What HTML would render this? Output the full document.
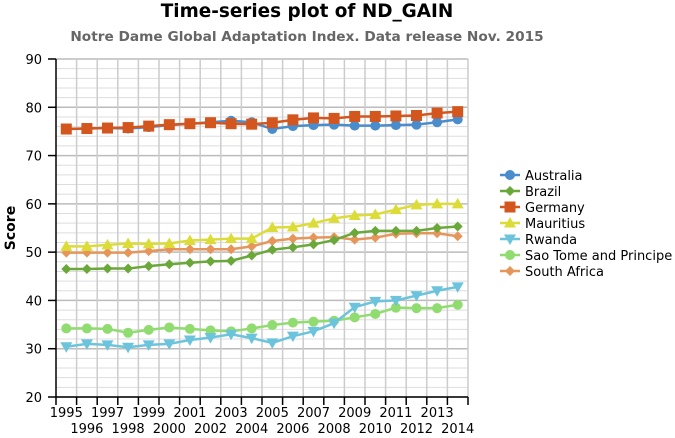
<!DOCTYPE html>
<html><head><meta charset="utf-8"><style>
body{margin:0;background:#fff;font-family:"DejaVu Sans","Liberation Sans",sans-serif;}
svg text{font-family:"DejaVu Sans","Liberation Sans",sans-serif;}
</style></head><body>
<svg id="chart" width="675" height="434">
<text x="307" y="17" text-anchor="middle" font-size="18.4" font-weight="bold" fill="#000">Time-series plot of ND_GAIN</text>
<text x="307" y="41" text-anchor="middle" font-size="13.7" font-weight="bold" fill="#666">Notre Dame Global Adaptation Index. Data release Nov. 2015</text>
<text transform="translate(15,228) rotate(-90)" text-anchor="middle" font-size="14" font-weight="bold">Score</text>
<g id="grid"></g><g id="axes"></g><g id="series"></g><g id="legend"></g>
</svg>
<script>
const years=[1995,1996,1997,1998,1999,2000,2001,2002,2003,2004,2005,2006,2007,2008,2009,2010,2011,2012,2013,2014];
const yTicks=[20,30,40,50,60,70,80,90];
const australia=[75.5,75.6,75.7,75.6,75.9,76.3,76.6,76.9,77.2,76.9,75.5,76.1,76.3,76.4,76.2,76.2,76.3,76.4,76.9,77.5];
const brazil=[46.5,46.5,46.6,46.6,47.1,47.5,47.8,48.1,48.2,49.3,50.5,51,51.6,52.5,54,54.4,54.4,54.4,55,55.3];
const germany=[75.5,75.6,75.7,75.8,76.1,76.4,76.6,76.8,76.6,76.5,76.8,77.4,77.8,77.7,78.1,78.1,78.2,78.3,78.8,79.1];
const mauritius=[51.2,51.2,51.5,51.8,51.7,51.8,52.4,52.6,52.8,52.8,55.1,55.2,56,57,57.6,57.8,58.8,59.8,60,60];
const rwanda=[30.4,31,30.8,30.3,30.8,31,31.8,32.3,33,32.2,31.2,32.6,33.6,35.3,38.6,39.8,40,41,42,42.8];
const saoTome=[34.2,34.2,34.1,33.3,33.9,34.4,34.1,33.8,33.6,34.2,34.9,35.4,35.6,35.8,36.5,37.2,38.5,38.4,38.4,39.1];
const southAfrica=[49.9,49.9,49.9,49.9,50.2,50.6,50.6,50.6,50.6,51.2,52.3,52.8,53,53.1,52.6,53,53.8,53.9,53.9,53.3];
const names=["Australia","Brazil","Germany","Mauritius","Rwanda","Sao Tome and Principe","South Africa"];
const NS="http://www.w3.org/2000/svg";
const L=56,R=468,T=59,B=397,yMin=20,yMax=90;
const band=(R-L)/years.length;
const xs=i=>L+band*(i+0.5);
const ys=v=>B-(v-yMin)/(yMax-yMin)*(B-T);
function mk(tag,attrs,parent){const e=document.createElementNS(NS,tag);for(const k in attrs)e.setAttribute(k,attrs[k]);parent.appendChild(e);return e;}
const grid=document.getElementById('grid'),axes=document.getElementById('axes'),ser=document.getElementById('series'),leg=document.getElementById('legend');
for(let v=yMin;v<=yMax;v+=2){const l=mk('line',{x1:L,x2:R,y1:ys(v),y2:ys(v),stroke:v%10===0?'#bbb':'#ddd','stroke-width':v%10===0?1.5:1},grid);
}
for(let i=1;i<=years.length;i++){const x=L+band*i;const l=mk('line',{x1:x,x2:x,y1:T,y2:B,stroke:'#ccc','stroke-width':1.5},grid);
}
let a=mk('line',{x1:L,x2:L,y1:T,y2:B,stroke:'#000','stroke-width':1.5},axes);
a=mk('line',{x1:L,x2:R,y1:B,y2:B,stroke:'#000','stroke-width':1.5},axes);
yTicks.forEach(v=>{mk('line',{x1:L-8,x2:L,y1:ys(v),y2:ys(v),stroke:'#000','stroke-width':1.5},axes);
const t=mk('text',{x:L-14,y:ys(v)+5,'text-anchor':'end','font-size':13},axes);t.textContent=v;
});
for(let i=0;i<=years.length;i++){const x=L+band*i;mk('line',{x1:x,x2:x,y1:B,y2:B+8,stroke:'#000','stroke-width':1.5},axes);}
years.forEach((y,i)=>{const t=mk('text',{x:xs(i),y:i%2===0?B+20:B+36,'text-anchor':'middle','font-size':13},axes);t.textContent=y;
});
const data=[australia,brazil,germany,mauritius,rwanda,saoTome,southAfrica];
const colors=['#4a8ccc','#6aa83a','#d4561f','#dcdc38','#6cc4dc','#90dc70','#e6965a'];
const shapes=['circle','diamond','square','tri','tridown','circle','diamond'];
function marker(sh,x,y,c,p,s){s=s||1;
 if(sh==='circle')return mk('circle',{cx:x,cy:y,r:5*s,fill:c},p);
 if(sh==='square')return mk('rect',{x:x-5.5*s,y:y-5.5*s,width:11*s,height:11*s,fill:c},p);
 if(sh==='diamond')return mk('polygon',{points:`${x},${y-5*s} ${x+5*s},${y} ${x},${y+5*s} ${x-5*s},${y}`,fill:c},p);
 if(sh==='tri')return mk('polygon',{points:`${x},${y-6*s} ${x+6*s},${y+4.5*s} ${x-6*s},${y+4.5*s}`,fill:c},p);
 return mk('polygon',{points:`${x-6*s},${y-4.5*s} ${x+6*s},${y-4.5*s} ${x},${y+6*s}`,fill:c},p);}
const order=[6,5,4,1,3,0,2];
order.forEach(k=>{const g=mk('g',{},ser);
 const pl=mk('polyline',{points:data[k].map((v,i)=>xs(i)+','+ys(v)).join(' '),fill:'none',stroke:colors[k],'stroke-width':2.5},g);
 
 data[k].forEach((v,i)=>{const m=marker(shapes[k],xs(i),ys(v),colors[k],g);});});
names.forEach((n,k)=>{const y=175+16*k;const g=mk('g',{},leg);
 mk('line',{x1:500,x2:520,y1:y,y2:y,stroke:colors[k],'stroke-width':2.5},g);marker(shapes[k],510,y,colors[k],g);
 const t=mk('text',{x:525,y:y+5,'font-size':13},g);t.textContent=n;});
</script>
</body></html>
